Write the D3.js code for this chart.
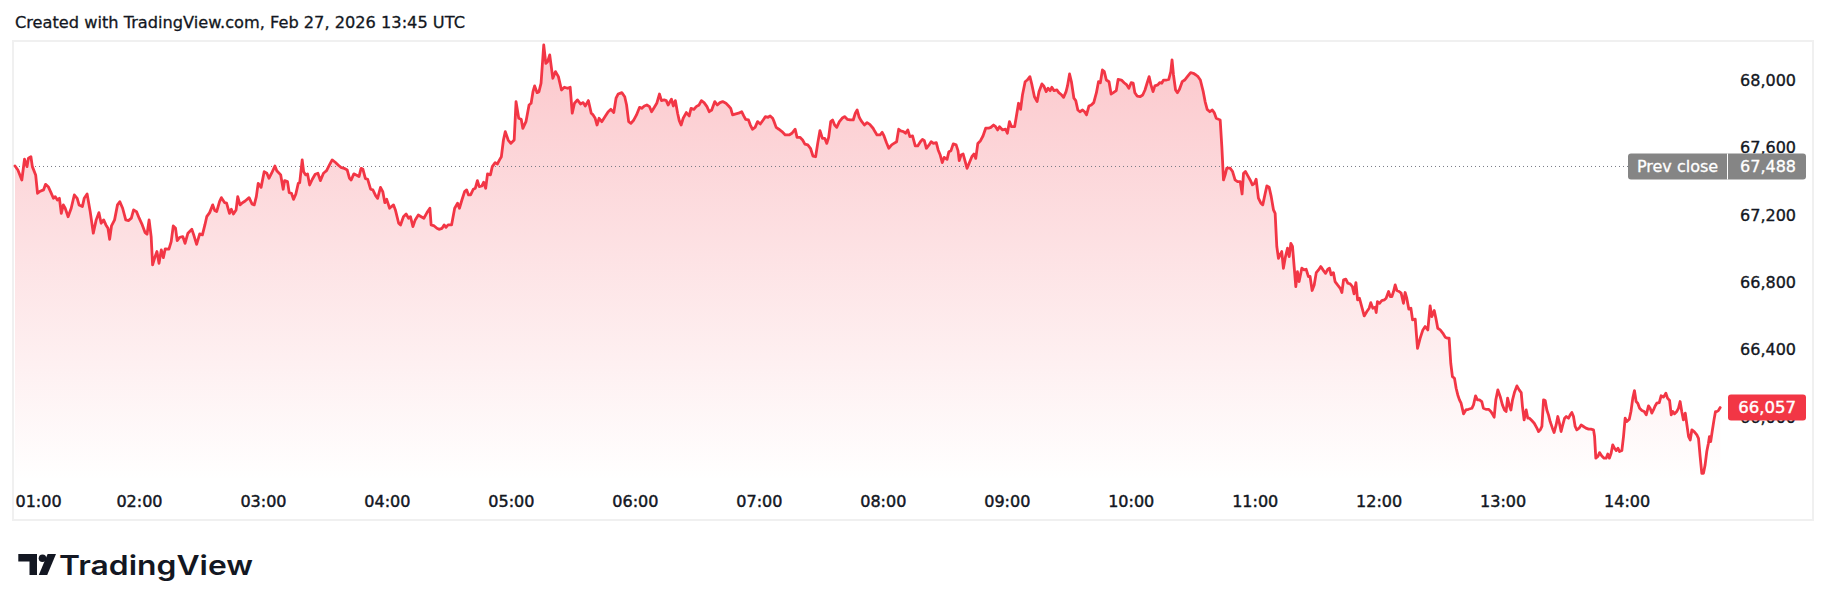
<!DOCTYPE html>
<html><head><meta charset="utf-8">
<script src="https://cdn.jsdelivr.net/npm/d3@7"></script>
<style>
html,body{margin:0;padding:0;background:#fff;}
svg{display:block;}
text{font-family:"DejaVu Sans",sans-serif;}
</style></head><body>
<svg id="chart" width="1830" height="611"></svg>
<script>
// minutes after 01:00
const times = [0,1.4,3.3,4.6,5.8,6.5,7.7,8.4,10.0,10.9,11.9,13.8,14.8,16.1,17.2,18.6,19.5,20.5,21.5,22.4,23.4,24.3,25.7,27.2,28.7,30.1,31.0,32.6,33.5,34.9,36.4,37.9,39.3,40.6,41.7,42.9,44.0,45.0,45.8,46.7,48.2,49.6,50.7,52.1,53.6,54.9,56.3,57.4,58.8,60.1,61.6,63.0,63.9,64.9,65.9,66.6,67.8,68.7,69.7,70.8,71.8,72.7,74.5,75.6,76.6,77.7,78.5,79.8,81.2,82.3,83.7,85.6,86.5,87.9,89.4,90.7,91.9,92.8,94.2,95.7,96.7,97.6,99.0,99.9,101.5,102.4,103.8,104.7,105.7,107.0,107.8,108.9,110.1,111.4,113.3,114.7,115.8,116.8,117.7,119.1,120.6,121.9,122.9,124.2,125.8,126.7,128.6,129.8,130.5,131.9,132.7,133.8,134.8,135.9,137.1,137.8,139.0,139.7,140.7,141.6,142.6,143.9,145.3,146.6,147.8,149.3,150.8,152.2,153.5,155.0,156.4,157.7,159.3,160.8,161.9,162.7,164.0,165.4,166.5,167.5,168.4,169.6,170.7,172.1,173.2,174.6,175.5,176.9,178.0,179.0,179.9,181.3,182.2,183.2,184.1,185.7,186.6,188.0,189.3,190.5,191.4,192.6,193.7,195.2,196.6,197.9,199.4,200.8,201.4,202.9,204.2,205.2,206.7,207.7,208.6,209.6,211.3,212.8,214.2,215.1,216.3,217.6,218.6,219.5,220.5,221.8,222.8,223.8,224.7,225.9,226.8,227.8,228.7,230.1,231.0,232.4,233.5,234.5,
235.4,236.4,237.3,238.7,240.0,241.6,242.5,243.8,245.0,245.8,247.3,248.8,249.8,250.7,251.5,252.7,253.6,254.6,255.9,256.9,257.8,258.8,260.3,261.6,263.0,264.5,265.9,267.4,268.7,269.7,270.8,272.2,273.7,275.0,276.0,277.5,278.9,279.8,280.8,281.7,282.7,284.0,285.6,287.1,288.4,289.8,290.9,291.9,
292.8,293.7,295.1,296.0,297.0,298.1,299.5,300.8,302.3,303.3,304.6,305.8,307.1,308.1,309.6,310.6,311.9,312.9,314.2,315.2,316.1,317.7,318.6,319.6,320.7,321.5,322.4,323.4,324.9,326.3,327.2,328.6,329.7,331.1,332.2,333.5,334.9,336.0,337.2,338.7,339.9,341.2,342.5,344.1,345.4,346.4,347.3,348.9,350.2,351.7,352.7,353.6,355.0,355.9,356.9,358.2,359.4,360.7,362.1,363.2,364.5,365.5,366.7,367.4,368.4,369.7,371.2,372.8,374.7,376.0,377.6,378.5,379.9,381.2,382.3,383.7,385.0,386.2,387.5,388.5,389.6,390.8,391.9,392.9,393.8,394.8,395.7,396.7,397.7,399.0,400.3,401.5,402.8,404.2,405.7,406.7,407.6,408.6,409.5,411.1,412.4,413.7,415.3,416.2,417.2,418.7,419.7,420.6,421.8,422.9,424.3,425.4,426.7,427.7,428.7,430.0,431.0,432.1,433.1,434.4,435.7,436.9,438.2,439.2,440.1,441.1,442.4,443.4,444.5,445.9,446.8,447.8,448.8,449.7,451.1,452.0,453.0,454.1,455.5,456.4,457.0,457.9,458.9,459.9,460.8,461.8,463.1,464.1,465.0,466.0,467.3,468.5,469.8,471.2,472.3,473.6,474.6,475.6,476.5,478.0,479.4,480.3,481.3,482.3,483.8,484.5,485.7,486.7,487.6,488.9,489.9,491.2,492.2,493.4,494.7,495.6,497.0,497.9,499.1,500.0,501.0,501.8,502.9,504.3,505.2,506.6,507.5,508.7,509.4,510.4,511.3,512.5,513.4,514.4,515.4,516.7,517.7,518.6,519.8,520.9,522.1,523.4,524.4,525.3,526.3,527.2,528.2,529.5,530.5,531.6,533.0,533.9,535.5,536.8,538.1,539.1,540.2,541.2,542.0,543.1,544.5,545.8,546.9,547.9,548.9,549.8,550.8,551.7,553.1,554.0,555.0,555.9,557.3,558.4,559.4,560.0,560.7,561.7,562.6,563.6,564.9,566.1,567.4,569.0,570.3,571.6,572.6,573.7,575.1,576.0,577.0,578.3,579.5,580.4,581.4,
582.5,583.3,584.1,584.9,585.7,586.5,588.1,589.3,590.5,591.7,593.0,593.9,594.6,595.5,596.7,597.8,598.9,599.9,600.7,601.8,603.0,603.9,605.1,605.9,607.0,608.0,609.1,609.9,610.7,611.5,612.3,613.1,613.9,614.9,615.9,616.7,617.5,618.3,619.1,619.9,620.7,621.5,622.8,623.9,624.9,626.0,626.8,627.8,628.8,629.8,630.9,632.0,633.3,634.3,635.4,636.2,637.0,638.1,638.9,640.1,641.4,642.2,643.0,644.1,645.1,646.2,647.3,648.1,649.0,649.8,650.7,651.7,653.0,654.3,655.4,656.2,657.2,658.3,658.8,659.4,660.4,661.5,662.7,663.6,664.8,665.6,666.4,667.2,668.0,668.8,669.9,670.9,672.0,672.8,673.6,674.6,675.6,676.4,677.7,678.8,680.1,681.4,682.5,683.8,684.9,685.7,686.9,687.7,688.6,689.8,691.1,692.2,693.3,694.1,694.9,695.7,696.7,697.5,698.3,699.1,699.9,701.1,702.2,703.5,705.1,705.9,706.9,707.8,708.8,709.9,710.7,711.9,713.2,714.3,715.3,715.9,716.7,717.7,718.8,719.9,720.9,721.7,722.4,723.3,724.0,724.8,725.7,726.9,728.0,729.0,729.6,730.4,731.4,732.2,733.0,734.1,735.3,736.6,737.4,738.2,739.0,739.8,740.6,741.4,742.2,743.0,744.1,744.9,745.9,746.7,747.5,748.3,749.1,750.0,750.8,751.9,752.7,753.5,754.3,755.1,755.9,757.0,758.0,759.1,760.3,761.6,762.7,764.0,764.5,765.1,766.1,766.9,768.0,769.1,770.1,770.9,771.7,772.5,773.3,774.1,775.0,775.8,776.6,777.7,778.5,779.3,780.1,781.3,782.1,783.0,783.8,784.6,785.4,786.3,787.4,788.5,789.5,790.6,791.4,792.2,793.0,793.8,794.6,795.8,796.7,797.9,799.0,799.8,800.8,801.6,802.4,803.2,804.3,805.1,805.9,806.7,807.5,808.4,809.2,810.0,810.8,811.6,812.7,814.0,814.8,
815.6,816.4,817.2,818.0,818.8,819.6,820.1,820.7,821.4,822.3,823.0,823.6,824.4,825.3];

const prices = [67491,67467,67408,67531,67487,67537,67546,67487,67438,67329,67339,67349,67382,67368,67339,67299,67309,67289,67299,67210,67260,67240,67190,67240,67319,67299,67260,67250,67299,67325,67220,67092,67171,67214,67151,67171,67141,67121,67056,67135,67171,67260,67279,67240,67171,67167,67181,67230,67220,67181,67141,67095,67086,67171,67072,66904,66953,66983,66913,66993,66947,66999,66997,67042,67135,67121,67048,67068,67072,67032,67092,67115,67082,67026,67088,67082,67141,67190,67214,67260,67226,67220,67279,67303,67273,67270,67210,67234,67206,67230,67309,67260,67273,67283,67303,67266,67260,67309,67388,67364,67457,67448,67418,67448,67491,67463,67438,67353,67404,67398,67333,67329,67293,67323,67388,67392,67527,67457,67438,67444,67378,67412,67442,67448,67404,67448,67463,67497,67527,67513,67497,67483,67477,67467,67418,67408,67444,67436,67428,67477,67471,67416,67412,67353,67349,67313,67299,67364,67339,67273,67293,67240,67250,67260,67230,67151,67141,67190,67206,67181,67190,67131,67171,67200,67190,67181,67214,67240,67141,67135,67121,67115,67121,67141,67127,67141,67141,67240,67270,67240,67289,67339,67349,67319,67319,67353,67359,67404,67368,67372,67394,67359,67444,67438,67487,67511,67503,67527,
67546,67645,67695,67645,67625,67645,67873,67774,67768,67714,67754,67853,67863,67932,67966,67926,67932,67982,68209,68100,68110,68150,68011,68051,68021,67942,67958,67952,67958,67804,67863,67883,67859,67867,67847,67879,67804,67794,67774,67734,67774,67754,67784,67813,67827,67808,67893,67918,
67922,67926,67902,67853,67754,67744,67764,67794,67839,67833,67847,67853,67843,67813,67843,67863,67918,67879,67883,67879,67853,67887,67847,67879,67804,67760,67734,67774,67808,67788,67833,67827,67843,67853,67879,67867,67843,67813,67823,67873,67853,67867,67873,67863,67847,67833,67794,67800,67804,67813,67788,67768,67764,67734,67709,67720,67754,67740,67764,67784,67780,67788,67774,67754,67720,67709,67695,67675,67675,67685,67709,67661,67661,67645,67621,67616,67596,67550,67546,67625,67701,67655,67655,67625,67661,67754,67764,67734,67720,67754,67774,67784,67768,67764,67764,67804,67823,67780,67760,67734,67748,67738,67715,67695,67675,67675,67691,67669,67629,67596,67616,67625,67635,67709,67699,67695,67685,67705,67665,67669,67610,67610,67635,67649,67641,67596,67616,67635,67625,67629,67586,67556,67511,67542,67530,67576,67582,67622,67616,67582,67523,67556,67562,67517,67477,67507,67546,67562,67536,67625,67641,67669,67715,67715,67720,67734,67724,67705,67724,67705,67709,67685,67754,67724,67724,67774,67863,67827,67912,67991,68001,68021,67972,67902,67873,67932,67978,67966,67932,67952,67938,67958,67938,67942,67926,67912,67898,67932,67966,68037,67991,67893,67879,67823,67813,67823,67813,67794,67847,67853,67867,67926,67991,67985,68061,68051,68001,67991,67918,67926,67938,68005,68001,67985,67972,67952,67985,67982,67926,67906,67902,67912,67942,67982,68021,67972,67932,67966,67972,67985,67982,68001,68001,68005,68051,68120,68031,67942,67926,67946,67991,68001,68021,68045,68041,68031,68021,68001,67932,67873,67827,67813,67823,67808,67774,
67768,67764,67606,67408,67438,67478,67478,67458,67408,67398,67398,67325,67448,67458,67432,67408,67379,67388,67412,67300,67270,67260,67329,67373,67365,67309,67230,67210,67013,66943,66963,66983,66884,66953,67003,66953,67032,67013,66894,66775,66864,66805,66884,66874,66878,66835,66835,66752,66785,66858,66874,66894,66870,66854,66878,66884,66845,66858,66805,66785,66765,66740,66815,66819,66795,66791,66775,66732,66799,66696,66706,66661,66601,66627,66647,66680,66647,66653,66621,66686,66676,66692,66696,66706,66746,66716,66716,66746,66785,66752,66746,66736,66676,66740,66706,66641,66647,66578,66582,66409,66469,66518,66538,66518,66661,66597,66633,66587,66528,66518,66498,66475,66469,66469,66320,66241,66231,66172,66132,66103,66083,66020,66043,66047,66053,66073,66127,66103,66103,66093,66053,66047,66047,66034,66014,66000,66103,66162,66123,66073,66043,66034,66113,66067,66043,66103,66146,66186,66162,66146,66063,65984,66043,65994,65994,65980,65964,65935,65915,65925,65945,66103,66099,66043,66014,65974,65935,65909,65954,66004,65964,65915,65954,65994,66004,65994,66014,66028,66004,65945,65925,65935,65954,65945,65935,65929,65929,65925,65885,65757,65767,65790,65770,65757,65757,65782,65757,65786,65836,65816,65802,65816,65796,65802,65885,65994,65974,65988,66034,66113,66158,66093,66083,66053,66040,66034,66014,66067,66053,66024,66043,66067,66083,66087,66127,66119,66142,66113,66099,66014,66034,66020,66034,66053,66093,66034,65984,66024,65954,65885,65865,65925,65915,65895,65875,
65766,65667,65667,65717,65796,65845,65885,65855,65914,65984,66033,66033,66039,66057];

const prevClose = 67488;
const lastPrice = 66057;
const yTicks = [66000, 66400, 66800, 67200, 67600, 68000];
const xTickMinutes = [0, 60, 120, 180, 240, 300, 360, 420, 480, 540, 600, 660, 720, 780];
const xTickLabels = ["01:00","02:00","03:00","04:00","05:00","06:00","07:00","08:00","09:00","10:00","11:00","12:00","13:00","14:00"];
const headerText = "Created with TradingView.com, Feb 27, 2026 13:45 UTC";
const prevCloseLabel = "Prev close";
const brandText = "TradingView";

const frame = {l: 13, t: 41, r: 1813, b: 520};
const pane = {l: 14, t: 41, b: 481};
const axisX = 1796;

const x = d3.scaleLinear().domain([0, 780]).range([15, 1626.6]);
const y = d3.scaleLinear().domain([66000, 68000]).range([417.2, 80.2]);
const fmt = d3.format(",");
const ink = "#131722";
const red = "#F23645";

const svg = d3.select("#chart");
const defs = svg.append("defs");
const grad = defs.append("linearGradient").attr("id", "ag")
  .attr("gradientUnits", "userSpaceOnUse")
  .attr("x1", 0).attr("x2", 0).attr("y1", pane.t).attr("y2", pane.b);
grad.append("stop").attr("offset", 0).attr("stop-color", red).attr("stop-opacity", 0.28);
grad.append("stop").attr("offset", 1).attr("stop-color", red).attr("stop-opacity", 0.0);

svg.append("text").attr("x", 15).attr("y", 28).attr("fill", ink)
  .attr("stroke", ink).attr("stroke-width", 0.3)
  .style("font-size", "16.2px").text(headerText);

svg.append("rect").attr("x", frame.l).attr("y", frame.t)
  .attr("width", frame.r - frame.l).attr("height", frame.b - frame.t)
  .attr("fill", "none").attr("stroke", "#f0f0f0").attr("stroke-width", 2);

const data = times.map((t, i) => ({t, v: prices[i]}));

svg.append("path").datum(data)
  .attr("d", d3.area().x(d => x(d.t)).y0(pane.b).y1(d => y(d.v)))
  .attr("fill", "url(#ag)");

const pcY = y(prevClose);
svg.append("line").attr("x1", x(0)).attr("x2", 1628).attr("y1", pcY).attr("y2", pcY)
  .attr("stroke", "#787b86").attr("stroke-width", 1).attr("stroke-dasharray", "1,3");

svg.append("path").datum(data)
  .attr("d", d3.line().x(d => x(d.t)).y(d => y(d.v)))
  .attr("fill", "none").attr("stroke", red).attr("stroke-width", 2.8)
  .attr("stroke-linejoin", "round").attr("stroke-linecap", "round");

// y axis
const yAxis = svg.append("g").attr("transform", `translate(${axisX},0)`)
  .call(d3.axisLeft(y).tickValues(yTicks).tickFormat(fmt).tickSize(0).tickPadding(0));
yAxis.select(".domain").remove();
yAxis.selectAll("text").attr("fill", ink).attr("stroke", ink).attr("stroke-width", 0.35)
  .style("font-size", "16px").style("font-family", "DejaVu Sans");

// x axis
const xAxis = svg.append("g").attr("transform", "translate(0,495.5)")
  .call(d3.axisBottom(x).tickValues(xTickMinutes).tickFormat((d, i) => xTickLabels[i]).tickSize(0).tickPadding(0));
xAxis.select(".domain").remove();
xAxis.selectAll("text").attr("fill", ink).attr("stroke", ink).attr("stroke-width", 0.45)
  .style("font-size", "16px").style("font-family", "DejaVu Sans")
  .each(function(d) {
    const w = this.getComputedTextLength();
    const left = x(d) - w / 2;
    if (left < 15) d3.select(this).attr("x", 15 + w / 2 - x(d));
  });

// prev close label
const pc = svg.append("g");
pc.append("rect").attr("x", 1628).attr("y", pcY - 13).attr("width", 178).attr("height", 26)
  .attr("rx", 3).attr("fill", "#858585");
pc.append("line").attr("x1", 1727.5).attr("x2", 1727.5).attr("y1", pcY - 13).attr("y2", pcY + 13)
  .attr("stroke", "#fff").attr("stroke-width", 1);
pc.append("text").attr("x", 1677.5).attr("y", pcY).attr("dy", "0.35em").attr("text-anchor", "middle")
  .attr("fill", "#fff").attr("stroke", "#fff").attr("stroke-width", 0.3)
  .style("font-size", "16px").text(prevCloseLabel);
pc.append("text").attr("x", axisX).attr("y", pcY).attr("dy", "0.35em").attr("text-anchor", "end")
  .attr("fill", "#fff").attr("stroke", "#fff").attr("stroke-width", 0.3)
  .style("font-size", "16px").text(fmt(prevClose));

// last price label
const lpY = y(lastPrice);
svg.append("rect").attr("x", 1728).attr("y", lpY - 13).attr("width", 78).attr("height", 26)
  .attr("rx", 3).attr("fill", red);
svg.append("text").attr("x", axisX).attr("y", lpY).attr("dy", "0.35em").attr("text-anchor", "end")
  .attr("fill", "#fff").attr("stroke", "#fff").attr("stroke-width", 0.4)
  .style("font-size", "16.5px").text(fmt(lastPrice));

// brand logo
const logo = svg.append("g").attr("fill", ink);
logo.append("path").attr("d", "M18.3,554H37V575H29.5V561.5H18.3Z");
logo.append("circle").attr("cx", 42.5).attr("cy", 558.3).attr("r", 3.8);
logo.append("path").attr("d", "M47.6,554H56L47.2,575H38.8Z");
logo.append("text").attr("x", 59).attr("y", 575).text(brandText)
  .style("font-family", "Inter").style("font-weight", 600).style("font-size", "27px")
  .attr("textLength", 194).attr("lengthAdjust", "spacingAndGlyphs");
</script>
</body></html>
